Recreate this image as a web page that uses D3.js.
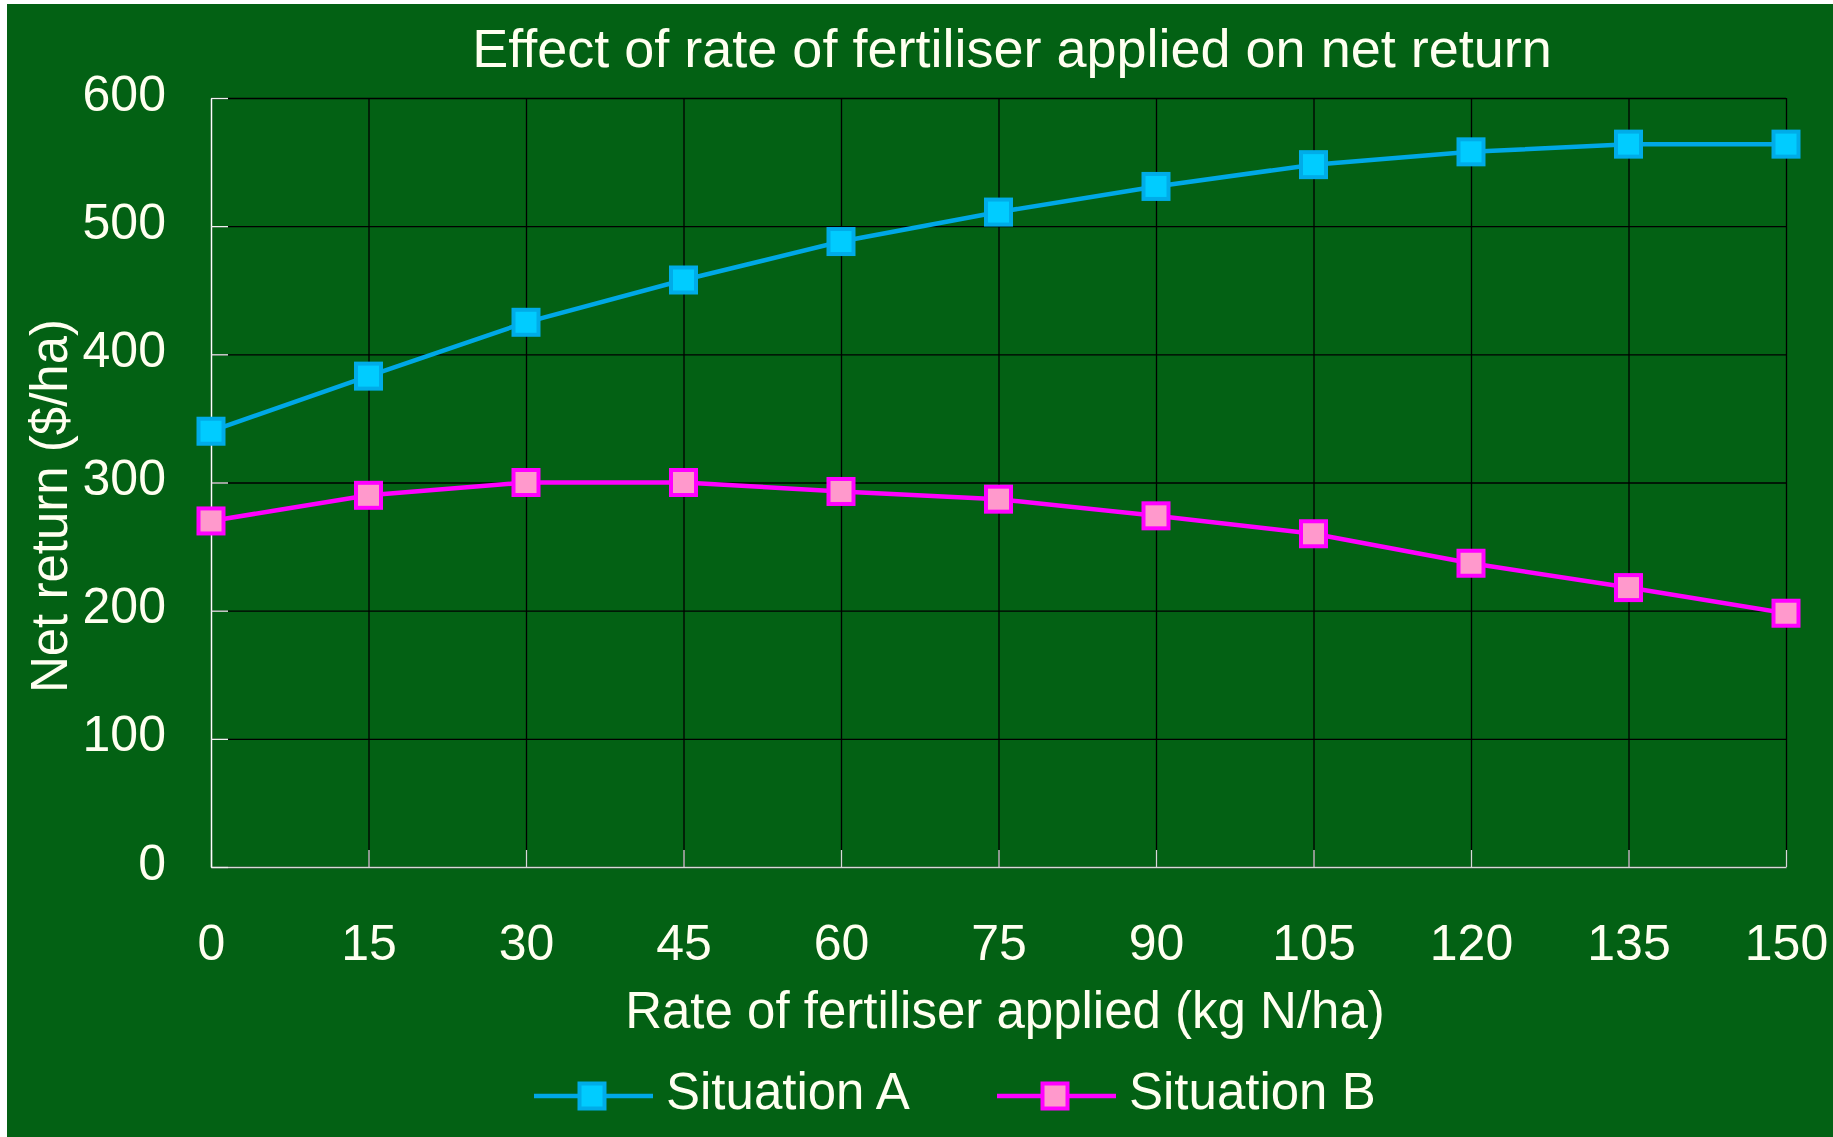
<!DOCTYPE html>
<html>
<head>
<meta charset="utf-8">
<script src="https://cdn.jsdelivr.net/npm/d3@7"></script>
<style>
  body { margin: 0; background: #ffffff; }
  text { font-family: "Liberation Sans", Arial, sans-serif; fill: #fffff0; }
</style>
</head>
<body>
<div id="plot"></div>
<script>
var rates = [0, 15, 30, 45, 60, 75, 90, 105, 120, 135, 150];
var situationA = [340, 383, 425, 458, 488, 511, 531, 548, 558, 564, 564];
var situationB = [270, 290, 300, 300, 293, 287, 274, 260, 237, 218, 198];
var yTicks = [0, 100, 200, 300, 400, 500, 600];
var seriesNames = ["Situation A", "Situation B"];

var margin = {top: 98, right: 47, bottom: 270, left: 211},
width = 1833 - margin.left - margin.right,
height = 1137 - margin.top - margin.bottom;

var colors = [
  {line: "#00a8e6", stroke: "#00ace8", fill: "#00ccff"},
  {line: "#ff00ff", stroke: "#ff00ff", fill: "#ff99cc"}
];

var outer = d3.select("#plot")
.append("svg")
.attr("width", 1833)
.attr("height", 1137);

outer.append("rect")
.attr("x", 7)
.attr("y", 4)
.attr("width", 1833 - 7)
.attr("height", 1137 - 4)
.style("fill", "#036114");

var svg = outer.append("g")
.attr("transform", "translate(" + margin.left + "," + margin.top + ")");

var x = d3.scaleLinear()
.domain([0, 150])
.range([0, width]);

var y = d3.scaleLinear()
.domain([0, 600])
.range([height, 0]);

// black grid first, axes and inward ticks on top
svg.append("g")
.attr("transform", "translate(0," + height + ")")
.call(d3.axisBottom(x).tickValues(rates).tickSize(-height).tickFormat(""))
.call(g => g.select(".domain").remove())
.selectAll("line").attr("stroke", "#000").attr("stroke-width", 1.3);

svg.append("g")
.call(d3.axisLeft(y).tickValues(yTicks).tickSize(-width).tickFormat(""))
.call(g => g.select(".domain").remove())
.selectAll("line").attr("stroke", "#000").attr("stroke-width", 1.3);

var xAxis = svg.append("g")
.attr("transform", "translate(0," + height + ")")
.call(d3.axisBottom(x).tickValues(rates).tickSizeInner(-17).tickSizeOuter(0));
xAxis.select(".domain").attr("stroke", "#d8d8d8").attr("stroke-width", 1.5);
xAxis.selectAll("line").attr("stroke", "#d8d8d8").attr("stroke-width", 1.3);
xAxis.selectAll("text")
.attr("y", 93)
.attr("dy", 0)
.style("font-size", "50px")
.style("fill", "#fffff0");

var yAxis = svg.append("g")
.call(d3.axisLeft(y).tickValues(yTicks).tickSizeInner(-17).tickSizeOuter(0).tickPadding(45));
yAxis.select(".domain").attr("stroke", "#ffffff").attr("stroke-width", 1.5);
yAxis.selectAll("line").attr("stroke", "#f0f0f0").attr("stroke-width", 1.3);
yAxis.selectAll("text")
.attr("dy", 12)
.style("font-size", "50px")
.style("fill", "#fffff0");

outer.append("text")
.attr("x", 1012)
.attr("y", 67)
.style("text-anchor", "middle")
.style("font-size", "54px")
.text("Effect of rate of fertiliser applied on net return");

outer.append("text")
.attr("x", 1005)
.attr("y", 1028)
.style("text-anchor", "middle")
.style("font-size", "51px")
.text("Rate of fertiliser applied (kg N/ha)");

outer.append("text")
.attr("transform", "translate(67,506) rotate(-90)")
.style("text-anchor", "middle")
.style("font-size", "51px")
.text("Net return ($/ha)");

var lineFunction = d3.line()
.x(function(d, i) { return x(rates[i]); })
.y(function(d) { return y(d); })
.curve(d3.curveLinear);

[situationA, situationB].forEach(function(series, s) {
  svg.append("path")
  .attr("d", lineFunction(series))
  .attr("stroke", colors[s].line)
  .attr("stroke-width", 4.5)
  .attr("fill", "none");

  svg.append("g")
  .selectAll("rect")
  .data(series)
  .enter()
  .append("rect")
  .attr("x", function(d, i) { return x(rates[i]) - 12.5; })
  .attr("y", function(d) { return y(d) - 12.5; })
  .attr("width", 25)
  .attr("height", 25)
  .style("fill", colors[s].fill)
  .style("stroke", colors[s].stroke)
  .style("stroke-width", 4);
});

var legend = outer.append("g")
.attr("transform", "translate(534,1096)");

seriesNames.forEach(function(name, s) {
  var entry = legend.append("g")
  .attr("transform", "translate(" + (s * 463) + ",0)");

  entry.append("line")
  .attr("x1", 0)
  .attr("x2", 119)
  .attr("y1", 0)
  .attr("y2", 0)
  .attr("stroke", colors[s].line)
  .attr("stroke-width", 4.5);

  entry.append("rect")
  .attr("x", 58 - 12.5)
  .attr("y", -12.5)
  .attr("width", 25)
  .attr("height", 25)
  .style("fill", colors[s].fill)
  .style("stroke", colors[s].stroke)
  .style("stroke-width", 4);

  entry.append("text")
  .attr("x", 132)
  .attr("y", 13)
  .style("font-size", "51px")
  .text(name);
});
</script>
</body>
</html>
